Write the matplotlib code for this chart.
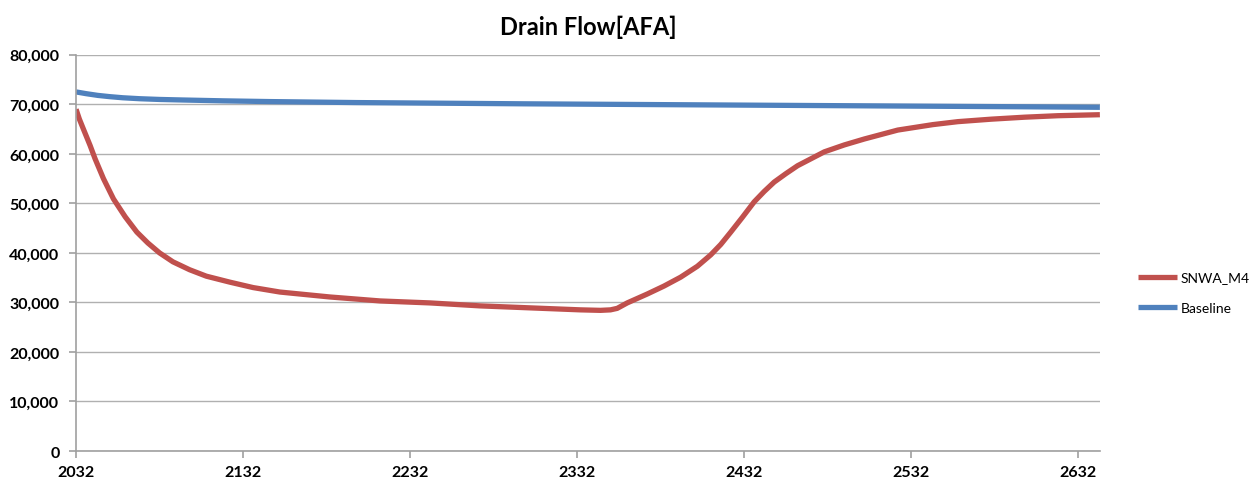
import matplotlib.pyplot as plt
from matplotlib.ticker import FuncFormatter

# Jahre und Werte
jahre_m4 = [2032, 2034, 2036.4, 2040.4, 2043.4, 2048.4, 2054.4, 2061.4, 2068.4, 2075,
            2082, 2090, 2100, 2110, 2124, 2138, 2154, 2184, 2214, 2244,
            2274, 2304, 2334, 2346, 2352, 2356, 2362, 2374, 2384, 2394,
            2404, 2412, 2418, 2424, 2431, 2438, 2444, 2450, 2457, 2464,
            2472, 2480, 2492, 2504, 2524, 2545, 2560, 2580, 2600, 2620, 2645]
snwa_m4 = [69000, 67000, 65000, 61700, 59000, 55000, 50900, 47300, 44200, 42000,
           40000, 38200, 36600, 35300, 34100, 33000, 32100, 31100, 30300, 29900,
           29300, 28900, 28500, 28400, 28500, 28800, 29900, 31700, 33300, 35100,
           37300, 39600, 41700, 44200, 47200, 50300, 52400, 54300, 56000, 57600,
           59000, 60400, 61800, 63000, 64800, 65900, 66500, 67000, 67400, 67700, 67900]

jahre_base = [2032, 2038, 2045, 2052, 2060, 2070, 2082, 2096, 2120, 2148, 2200,
              2300, 2400, 2500, 2600, 2645]
baseline = [72500, 72150, 71800, 71550, 71320, 71130, 70980, 70870, 70700, 70550, 70350,
            70100, 69900, 69700, 69500, 69400]

x_ticks = [2032, 2132, 2232, 2332, 2432, 2532, 2632]
y_ticks = list(range(0, 80001, 10000))

plt.rcParams['font.family'] = ['Lato', 'DejaVu Sans']

fig = plt.figure(figsize=(12.57, 4.85), dpi=100)
ax = fig.add_axes([0.0605, 0.068, 0.8145, 0.817])

ax.plot(jahre_m4, snwa_m4, color='#c0504d', linewidth=3.8, label='SNWA_M4',
        solid_joinstyle='round', solid_capstyle='butt')
ax.plot(jahre_base, baseline, color='#4f81bd', linewidth=3.8, label='Baseline',
        solid_joinstyle='round', solid_capstyle='butt')

ax.set_xlim(2032, 2645)
ax.set_ylim(0, 80000)
ax.set_xticks(x_ticks)
ax.set_yticks(y_ticks)
ax.yaxis.set_major_formatter(FuncFormatter(lambda v, p: f"{int(v):,}"))

ax.grid(axis='y', color='#b0b0b0', linewidth=1)
ax.set_axisbelow(True)
for s in ['top', 'right']:
    ax.spines[s].set_visible(False)
for s in ['left', 'bottom']:
    ax.spines[s].set_color('#a0a0a0')
    ax.spines[s].set_linewidth(1.2)

ax.tick_params(axis='both', colors='#a0a0a0', length=5, width=1.2, labelcolor='black')
for lbl in ax.get_xticklabels() + ax.get_yticklabels():
    lbl.set_fontweight('bold')
    lbl.set_fontsize(11.5)
ax.tick_params(axis='y', pad=7)
ax.tick_params(axis='x', pad=5)

ax.set_title('Drain Flow[AFA]', fontsize=17, fontweight='bold', pad=15)

ax.legend(loc='center left', bbox_to_anchor=(1.025, 0.40), frameon=False,
          fontsize=10, handlelength=2.8, handletextpad=0.3, labelspacing=1.3)

fig.savefig('out.png', dpi=100)
